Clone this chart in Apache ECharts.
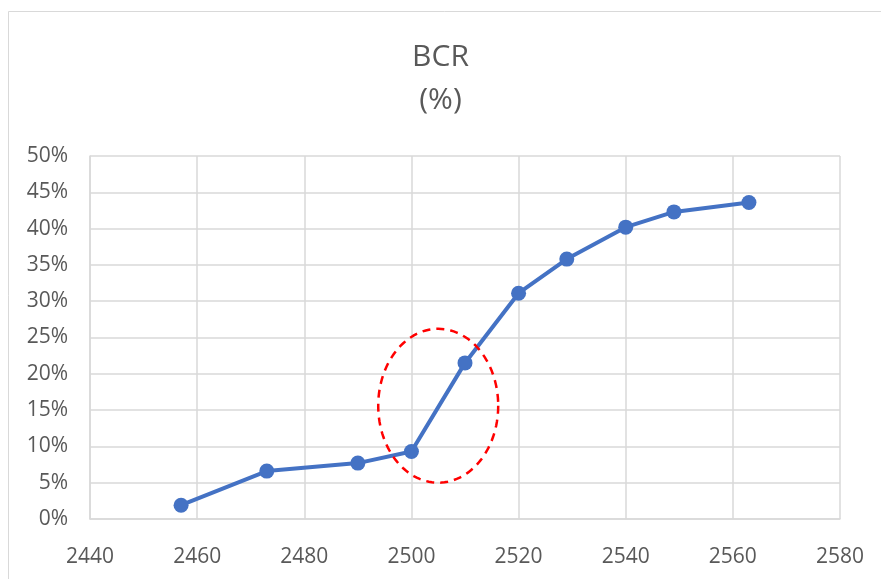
<!DOCTYPE html>
<html>
<head>
<meta charset="utf-8">
<script src="https://cdn.jsdelivr.net/npm/echarts@6/dist/echarts.min.js"></script>
<style>html,body{margin:0;padding:0;background:#fff;}#chart{width:881px;height:579px;}</style>
</head>
<body>
<div id="chart"></div>
<script>
var xValues = [2457, 2473, 2490, 2500, 2510, 2520, 2529, 2540, 2549, 2563];
var bcrValues = [1.9, 6.6, 7.7, 9.3, 21.5, 31.1, 35.8, 40.2, 42.3, 43.6];
var ellipseCenter = [2505, 15.6];
var ellipseRadii = [11.2, 10.6];
var titleText = 'BCR\n(%)';

var chart = echarts.init(document.getElementById('chart'), null, {renderer: 'canvas'});
var FONT = '"Open Sans", "Liberation Sans", sans-serif';
var GRID = '#d9d9d9';
var TXT = '#595959';

var option = {
  backgroundColor: '#ffffff',
  animation: false,
  title: {
    text: titleText,
    left: 'center',
    top: 31,
    textStyle: {fontFamily: FONT, fontSize: 30, fontWeight: 'normal', color: TXT, lineHeight: 43}
  },
  grid: {left: 90, right: 41, top: 156, bottom: 60, containLabel: false},
  xAxis: {
    type: 'value', min: 2440, max: 2580, interval: 20,
    axisLine: {show: true, lineStyle: {color: GRID, width: 1.5}},
    axisTick: {show: false},
    splitLine: {show: true, lineStyle: {color: GRID, width: 1.5}},
    axisLabel: {fontFamily: FONT, fontSize: 21, color: TXT, margin: 28,
      formatter: function (v) { return String(v); }}
  },
  yAxis: {
    type: 'value', min: 0, max: 50, interval: 5,
    axisLine: {show: true, lineStyle: {color: GRID, width: 1.5}},
    axisTick: {show: false},
    splitLine: {show: true, lineStyle: {color: GRID, width: 1.5}},
    axisLabel: {fontFamily: FONT, fontSize: 21, color: TXT, margin: 22, formatter: '{value}%'}
  },
  series: [
    {
      type: 'line',
      data: xValues.map(function (x, i) { return [x, bcrValues[i]]; }),
      lineStyle: {color: '#4472C4', width: 4},
      itemStyle: {color: '#4472C4'},
      symbol: 'circle',
      symbolSize: 15,
      z: 3
    },
    {
      type: 'custom',
      data: [[ellipseCenter[0], ellipseCenter[1]]],
      z: 5,
      renderItem: function (params, api) {
        var c = api.coord([api.value(0), api.value(1)]);
        var sz = api.size([ellipseRadii[0], ellipseRadii[1]]);
        var pts = [];
        var n = 120;
        for (var i = 0; i <= n; i++) {
          var a = i / n * Math.PI * 2;
          pts.push([c[0] + sz[0] * Math.cos(a), c[1] + sz[1] * Math.sin(a)]);
        }
        return {
          type: 'polyline',
          shape: {points: pts},
          style: {stroke: '#ff0000', lineWidth: 2.5, lineDash: [8, 6], fill: null}
        };
      }
    }
  ],
  graphic: [
    {type: 'line', shape: {x1: 8.5, y1: 11.5, x2: 881, y2: 11.5}, style: {stroke: '#d9d9d9', lineWidth: 1}},
    {type: 'line', shape: {x1: 8.5, y1: 11.5, x2: 8.5, y2: 579}, style: {stroke: '#d9d9d9', lineWidth: 1}}
  ]
};
chart.setOption(option);
</script>
</body>
</html>
